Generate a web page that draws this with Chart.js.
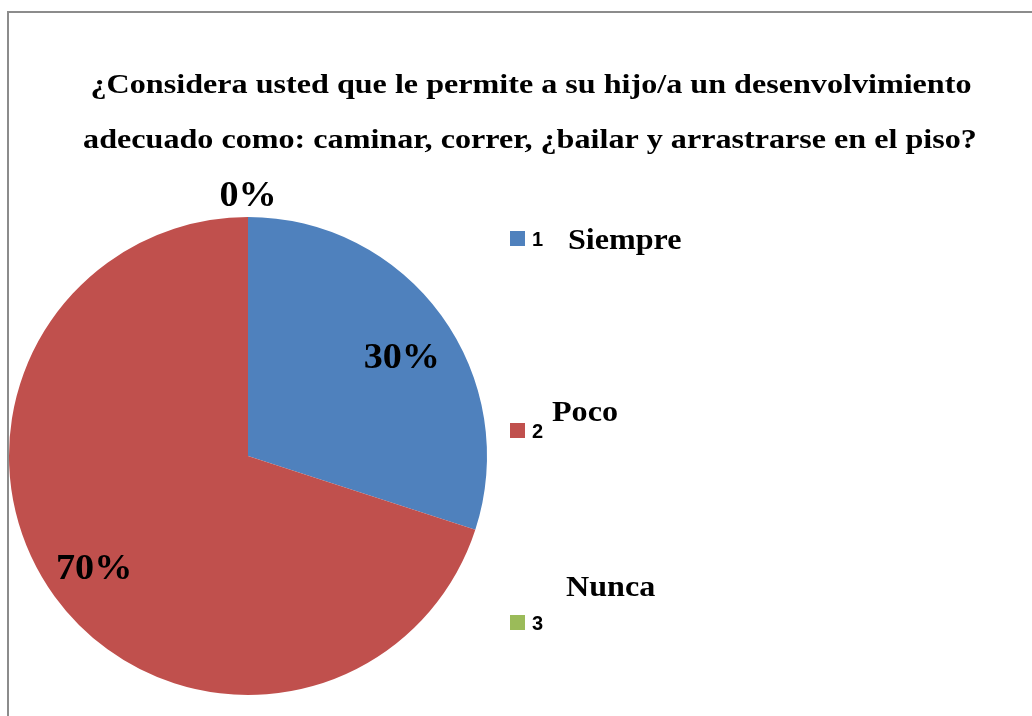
<!DOCTYPE html>
<html>
<head>
<meta charset="utf-8">
<script src="https://cdn.jsdelivr.net/npm/chart.js@4"></script>
<style>
  html, body { margin: 0; padding: 0; background: #fff; }
  #wrap { position: relative; width: 1032px; height: 716px; }
  #frame { position: absolute; left: 7px; top: 11px; right: -5px; bottom: -5px; border-left: 2px solid #8c8c8c; border-top: 2px solid #8c8c8c; }
  canvas { position: absolute; left: 0; top: 0; }
</style>
</head>
<body>
<div id="wrap">
  <div id="frame"></div>
  <canvas id="myChart1" width="1032" height="716"></canvas>
</div>
<script>
const titleLines = ['¿Considera usted que le permite a su hijo/a un desenvolvimiento',
                    'adecuado como: caminar, correr, ¿bailar y arrastrarse en el piso?'];
const categories = ['1', '2', '3'];
const categoryNames = ['Siempre', 'Poco', 'Nunca'];
const percentages = [30, 70, 0];
const colors = ['#4F81BD', '#C0504D', '#9BBB59'];

const serif = '"Liberation Serif", "Times New Roman", serif';

// the original text is a bit wider than Times, so stretch it sideways
function wideText(ctx, text, x, y, sx) {
    ctx.save();
    ctx.translate(x, y);
    ctx.scale(sx, 1);
    ctx.fillText(text, 0, 0);
    ctx.restore();
}

// labels on the slices
const sliceLabels = {
    id: 'sliceLabels',
    afterDatasetsDraw(chart) {
        const ctx = chart.ctx;
        const meta = chart.getDatasetMeta(0);
        ctx.save();
        ctx.font = 'bold 36px ' + serif;
        ctx.fillStyle = '#000';
        ctx.textAlign = 'center';
        ctx.textBaseline = 'middle';
        meta.data.forEach(function(arc, i) {
            const p = arc.getProps(['x', 'y', 'startAngle', 'endAngle', 'outerRadius'], true);
            let mid = (p.startAngle + p.endAngle) / 2 + 0.028;
            let r = p.outerRadius * 0.78;
            if (percentages[i] === 0) {
                mid = p.startAngle;
                r = p.outerRadius + 28;
            }
            wideText(ctx, percentages[i] + '%', p.x + Math.cos(mid) * r, p.y + Math.sin(mid) * r + 8, 1.06);
        });
        ctx.restore();
    }
};

// title and the legend, drawn like the original
const extras = {
    id: 'extras',
    afterDraw(chart) {
        const ctx = chart.ctx;
        ctx.save();
        ctx.fillStyle = '#000';
        ctx.textAlign = 'center';
        ctx.textBaseline = 'middle';
        ctx.font = 'bold 27px ' + serif;
        wideText(ctx, titleLines[0], 531, 86, 1.19);
        wideText(ctx, titleLines[1], 530, 141, 1.19);

        const boxY = [238, 430, 622];
        const nameX = [568, 552, 566];
        const nameY = [241, 413, 588];
        categories.forEach(function(c, i) {
            ctx.fillStyle = colors[i];
            ctx.fillRect(510, boxY[i] - 7, 15, 15);
            ctx.fillStyle = '#000';
            ctx.textAlign = 'left';
            ctx.font = 'bold 20px "Liberation Sans", Arial, sans-serif';
            ctx.fillText(c, 532, boxY[i] + 2);
            ctx.font = 'bold 30px ' + serif;
            wideText(ctx, categoryNames[i], nameX[i], nameY[i], 1.07);
        });
        ctx.restore();
    }
};

const myChart1 = new Chart(document.getElementById('myChart1').getContext('2d'), {
    type: 'pie',
    data: {
        labels: categories,
        datasets: [{
            data: percentages,
            backgroundColor: colors,
            borderWidth: 0
        }]
    },
    options: {
        responsive: false,
        animation: false,
        layout: { padding: { left: 9, right: 545, top: 217, bottom: 21 } },
        plugins: {
            legend: { display: false },
            tooltip: { enabled: false }
        }
    },
    plugins: [sliceLabels, extras]
});
</script>
</body>
</html>
